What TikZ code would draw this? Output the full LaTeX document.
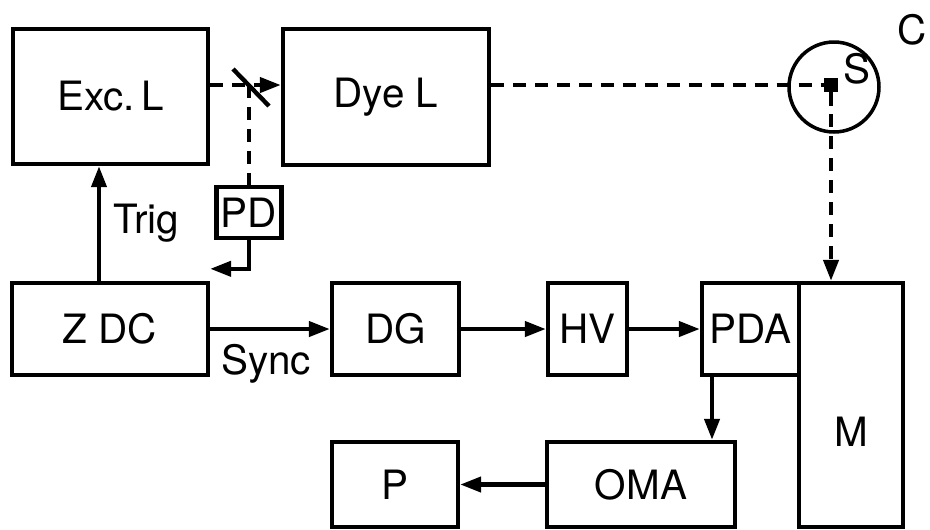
\documentclass[tikz,border=0pt]{standalone}
\usepackage{fontspec}
\setmainfont{TeX Gyre Heros}
\usetikzlibrary{arrows.meta,positioning,calc}
\tikzset{
  blk/.style={rectangle,draw,line width=2.5pt,inner sep=0pt,
              font=\fontsize{23}{26}\selectfont},
  lbl/.style={inner sep=0pt,font=\fontsize{23}{26}\selectfont},
  sig/.style={-{Triangle[length=4.2mm,width=3mm]},line width=2.4pt},
  beam/.style={line width=2.4pt,dash pattern=on 7.5pt off 5pt},
}

\begin{document}
\begin{tikzpicture}[x=0.02cm,y=-0.02cm]
  \useasboundingbox (0,0) rectangle (930,529);
  % ── lasers and photodiode ──
  \node[blk,minimum width=3.9cm,minimum height=2.7cm]   (excl) at (110.5,96.5) {Exc.\,L};
  \node[blk,minimum width=4.12cm,minimum height=2.72cm] (dyel) at (386,97)     {Dye L};
  \node[blk,minimum width=1.3cm,minimum height=1.02cm]  (pd)   at (249,212.5)  {PD};
  \coordinate (bs) at (249,85);
  % ── electronics row ──
  \node[blk,minimum width=3.92cm,minimum height=1.84cm] (zdc) at (110,329)   {Z DC};
  \node[blk,minimum width=2.54cm,minimum height=1.84cm] (dg)  at (395.5,329) {DG};
  \node[blk,minimum width=1.58cm,minimum height=1.84cm] (hv)  at (587.5,329) {HV};
  \node[blk,minimum width=1.94cm,minimum height=1.84cm] (pda) at (750.5,329) {PDA};
  \node[blk,minimum width=2.08cm,minimum height=4.88cm] (m)   at (851,405)   {};
  \node[lbl] (mlbl) at ($(m.center)+(0,27)$) {M};
  % ── readout row ──
  \node[blk,minimum width=3.76cm,minimum height=1.7cm] (oma) at (641,484.5) {OMA};
  \node[blk,minimum width=2.52cm,minimum height=1.7cm] (p)   at (395,484.5) {P};
  % ── cell with sample ──
  \node[circle,draw,line width=2pt,minimum size=1.8cm,inner sep=0pt] (c) at (834,87) {};
  \node[fill,minimum size=0.28cm,inner sep=0pt] (s) at (831,85) {};
  \node[lbl] (slbl) at (857,69) {S};
  \node[lbl] (clbl) at (912,30) {C};
  % ── optical paths (dashed) ──
  \draw[beam,-{Triangle[length=4.2mm,width=3mm]}] (excl.east |- bs) -- (dyel.west |- bs);
  \draw[line width=2.5pt] ($(bs)+(-16,-16)$) -- ($(bs)+(20,21)$); % beam splitter
  \draw[beam] (bs) -- (pd.north);
  \draw[beam] (dyel.east |- s) -- (s.west);
  \draw[beam,-{Triangle[length=4.2mm,width=3mm]}] (s.south) -- (s.south |- m.north);
  % ── signal paths ──
  \draw[sig] (pd.south) |- ($(zdc.north east)+(0,-12)$);
  \draw[sig] ($(zdc.north)+(-11,0)$) -- ($(excl.south)+(-11.5,0)$);
  \node[lbl] (trig) at (146,223) {Trig};
  \draw[sig] (zdc.east) -- (dg.west);
  \node[lbl] (sync) at (266,364) {Sync};
  \draw[sig] (dg.east) -- (hv.west);
  \draw[sig] (hv.east) -- (pda.west);
  \coordinate (pdaout) at ($(pda.south)+(-38.5,0)$);
  \draw[sig] (pdaout) -- (pdaout |- oma.north);
  \draw[sig] (oma.west) -- (p.east);
\end{tikzpicture}
\end{document}
